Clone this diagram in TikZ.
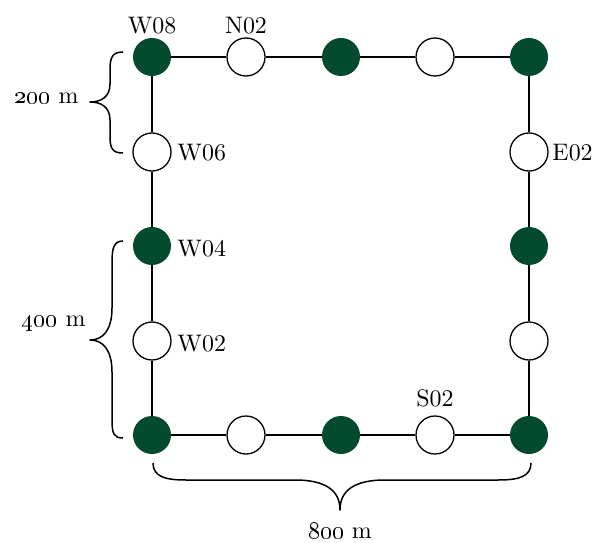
\documentclass[tikz,border=0pt]{standalone}
\definecolor{dkgreen}{RGB}{3,74,46}
\begin{document}
\begin{tikzpicture}[x=1bp,y=-1bp,
  stn/.style={circle,minimum size=38bp,inner sep=0pt},
  full/.style={stn,fill=dkgreen},
  empty/.style={stn,draw=black,line width=1.3bp,fill=white},
  lbl/.style={inner sep=0pt,scale=2.4},
  brc/.style={line width=1.5bp,line join=round},
  link/.style={line width=1.5bp}]
\useasboundingbox (0,0) rectangle (595,543);
% stations
\node[full]  (a1) at (152,57) {};
\node[empty] (a2) at (246,57) {};
\node[full]  (a3) at (341,57) {};
\node[empty] (a4) at (435,57) {};
\node[full]  (a5) at (529,57) {};
\node[empty] (b1) at (152,152) {};
\node[empty] (b5) at (529,152) {};
\node[full]  (c1) at (152,246) {};
\node[full]  (c5) at (529,246) {};
\node[empty] (d1) at (152,341) {};
\node[empty] (d5) at (529,341) {};
\node[full]  (e1) at (152,435) {};
\node[empty] (e2) at (246,435) {};
\node[full]  (e3) at (341,435) {};
\node[empty] (e4) at (435,435) {};
\node[full]  (e5) at (529,435) {};
% links
\draw[link] (a1) -- (a2); \draw[link] (a2) -- (a3); \draw[link] (a3) -- (a4); \draw[link] (a4) -- (a5);
\draw[link] (e1) -- (e2); \draw[link] (e2) -- (e3); \draw[link] (e3) -- (e4); \draw[link] (e4) -- (e5);
\draw[link] (a1) -- (b1); \draw[link] (b1) -- (c1); \draw[link] (c1) -- (d1); \draw[link] (d1) -- (e1);
\draw[link] (a5) -- (b5); \draw[link] (b5) -- (c5); \draw[link] (c5) -- (d5); \draw[link] (d5) -- (e5);
% labels
\node[lbl,anchor=base] (lw08) at (152,34) {W08};
\node[lbl,anchor=base] (ln02) at (246,34) {N02};
\node[lbl,anchor=base west] (lw06) at (177,161) {W06};
\node[lbl,anchor=base west] (lw04) at (177,256) {W04};
\node[lbl,anchor=base west] (lw02) at (177,351) {W02};
\node[lbl,anchor=base west] (le02) at (552,161) {E02};
\node[lbl,anchor=base] (ls02) at (435,406) {S02};
% braces
\draw[brc] (123,52) .. controls (112,52) and (110,58) .. (110,70)
  -- (110,84) .. controls (110,97) and (101,102) .. (90,102)
  .. controls (101,102) and (110,107) .. (110,120)
  -- (110,136) .. controls (110,148) and (112,153) .. (123,153);
\node[lbl,anchor=base east] (l200) at (79,104) {\oldstylenums{200} m};
\draw[brc] (123,241) .. controls (114,241) and (112,248) .. (112,262)
  -- (112,308) .. controls (112,330) and (103,340) .. (90,340)
  .. controls (103,340) and (112,350) .. (112,372)
  -- (112,420) .. controls (112,434) and (114,438) .. (123,438);
\node[lbl,anchor=base east] (l400) at (86,326) {\oldstylenums{400} m};
\draw[brc] (153,463) .. controls (153,477) and (166,480) .. (186,480)
  -- (295,480) .. controls (325,480) and (340,490) .. (340,510)
  .. controls (340,490) and (355,480) .. (385,480)
  -- (498,480) .. controls (518,480) and (531,477) .. (531,463);
\node[lbl,anchor=base] (l800) at (340,538) {\oldstylenums{800} m};
\end{tikzpicture}
\end{document}
